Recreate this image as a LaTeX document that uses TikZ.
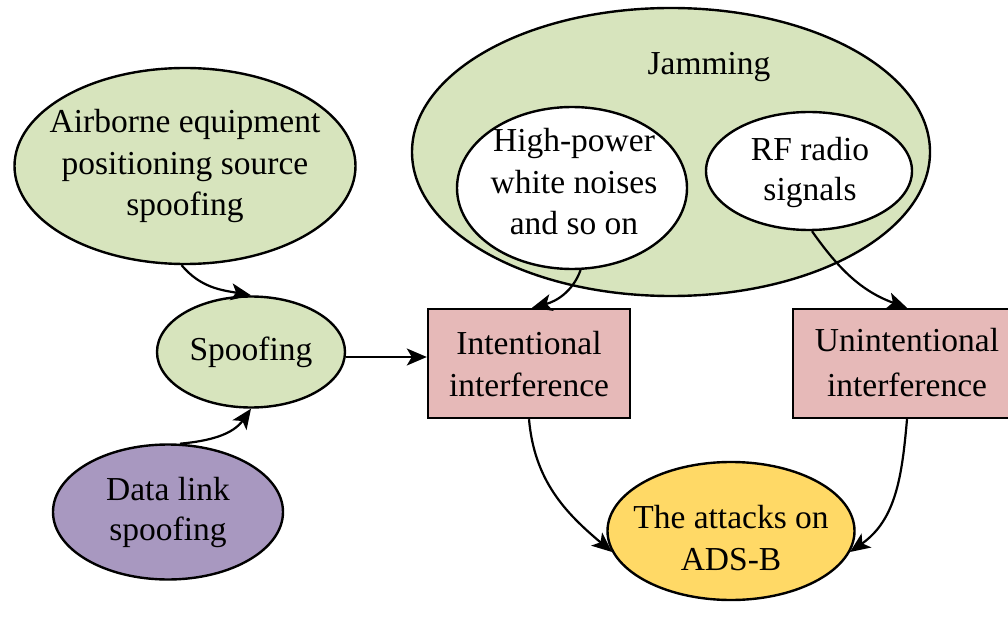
\documentclass[tikz,border=0pt]{standalone}
\usepackage{fontspec}
\newfontfamily\timesfont{LiberationSerif-Regular.ttf}
\usetikzlibrary{shapes.geometric,arrows.meta}
\definecolor{leaf}{HTML}{D7E4BD}
\definecolor{rose}{HTML}{E6B9B8}
\definecolor{lilac}{HTML}{A898C0}
\definecolor{gold}{HTML}{FFD966}
\begin{document}
\begin{tikzpicture}[x=1pt,y=-1pt,
  txt/.style={font=\timesfont\fontsize{33.5}{41.5}\selectfont, align=center, inner sep=0pt},
  oval/.style={ellipse, draw, line width=2.4pt, inner sep=0pt},
  box/.style={rectangle, draw, line width=2.4pt, fill=rose, inner sep=0pt},
  link/.style={draw, line width=2.2pt, -{Stealth[length=20pt,width=17pt,inset=5pt]}}]
\useasboundingbox (0,0) rectangle (1008,617);

% jamming group
\node[oval, fill=leaf, minimum width=518pt, minimum height=288pt] (jam) at (671,152) {};
\node[txt] (jamtxt) at (709,67) {Jamming};
\node[oval, fill=white, minimum width=230pt, minimum height=162pt] (hp) at (572,188) {};
\node[txt] (hptxt) at (574,182) {High-power\\white noises\\and so on};
\node[oval, fill=white, minimum width=206pt, minimum height=118pt] (rf) at (809,171) {};
\node[txt, font=\timesfont\fontsize{33.5}{40}\selectfont] (rftxt) at (810,172) {RF radio\\signals};

% spoofing group
\node[oval, fill=leaf, minimum width=341pt, minimum height=196pt] (air) at (185,166) {};
\node[txt] (airtxt) at (185,166) {Airborne equipment\\positioning source\\spoofing};
\node[oval, fill=leaf, minimum width=188pt, minimum height=111pt] (spoof) at (251,352) {};
\node[txt] (spooftxt) at (251,352) {Spoofing};
\node[oval, fill=lilac, minimum width=230pt, minimum height=135pt] (dl) at (168,512) {};
\node[txt, font=\timesfont\fontsize{33.5}{40}\selectfont] (dltxt) at (168,512) {Data link\\spoofing};

% interference boxes
\node[box, minimum width=202pt, minimum height=109pt] (int) at (529,363.5) {};
\node[txt, font=\timesfont\fontsize{33.5}{42}\selectfont] (inttxt) at (529,364) {Intentional\\interference};
\node[box, minimum width=228pt, minimum height=109pt] (unint) at (907,363.5) {};
\node[txt, font=\timesfont\fontsize{33.5}{45}\selectfont] (uninttxt) at (907,363) {Unintentional\\interference};

% target
\node[oval, fill=gold, minimum width=247pt, minimum height=138pt] (ads) at (731,531) {};
\node[txt] (adstxt) at (731,538) {The attacks on\\ADS-B};

% connectors
\draw[link] (air.-92) to[out=-50, in=170] (spoof.north);
\draw[link] (dl.80) to[out=5, in=235] (spoof.south);
\draw[link] ([yshift=-5pt]spoof.east) -- ([yshift=-5pt]spoof.east -| int.west);
\draw[link] (hp.-84) to[out=-110, in=15] ([xshift=3pt]int.north);
\draw[link] ([xshift=3pt]rf.south) to[out=-55, in=160] (unint.north);
\draw[link] (int.south) to[out=-85, in=140] (ads.190);
\draw[link] (unint.south) to[out=-95, in=35] (ads.-10);
\end{tikzpicture}
\end{document}
